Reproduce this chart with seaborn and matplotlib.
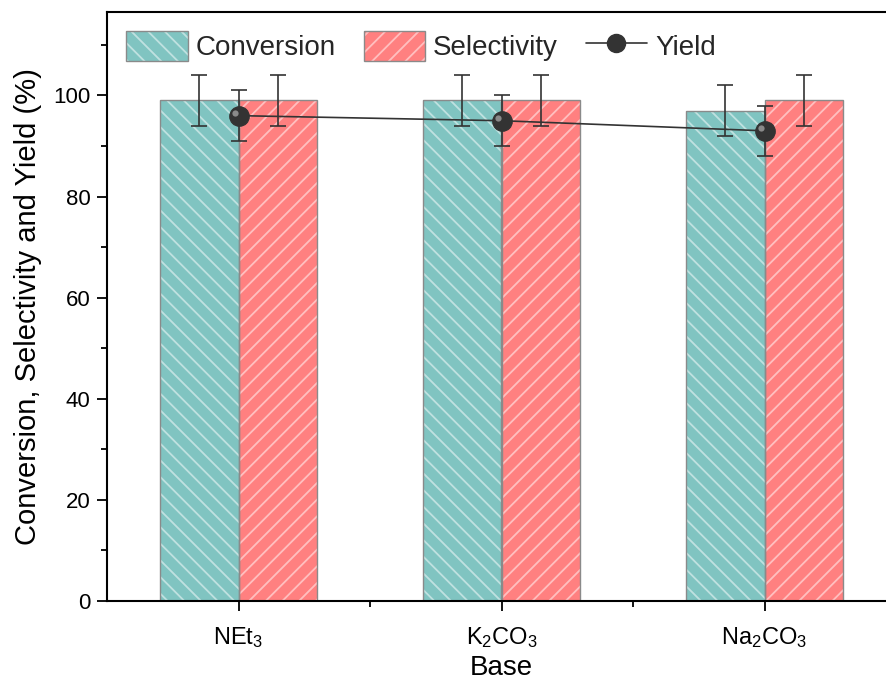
import matplotlib
matplotlib.use('Agg')
import matplotlib.pyplot as plt
import seaborn as sns
import pandas as pd
import numpy as np
from matplotlib.patches import Patch, Rectangle
from matplotlib.lines import Line2D
from matplotlib.legend_handler import HandlerTuple
from matplotlib.ticker import MultipleLocator

# ---- data ----
bases = [r'$\mathregular{NEt_3}$', r'$\mathregular{K_2CO_3}$', r'$\mathregular{Na_2CO_3}$']
conversion = [99, 99, 97]
conversion_err = [5, 5, 5]
selectivity = [99, 99, 99]
selectivity_err = [5, 5, 5]
yield_vals = [96, 95, 93]
yield_err = [5, 5, 5]

teal = '#80C4C1'
red = '#FF8080'
edge = '#8a8a8a'
dark = '#333333'

sns.set_theme(style='ticks')
plt.rcParams['font.family'] = ['Liberation Sans', 'DejaVu Sans']
plt.rcParams['hatch.linewidth'] = 1.3

fig = plt.figure(figsize=(8.86, 6.86), dpi=100)
ax = fig.add_axes([107/886, 85/686, 789/886, 589/686])

df = pd.DataFrame({
    'Base': bases * 2,
    'Metric': ['Conversion'] * 3 + ['Selectivity'] * 3,
    'Value': conversion + selectivity,
})

sns.barplot(data=df, x='Base', y='Value', hue='Metric', palette=[teal, red],
            width=0.6, errorbar=None, saturation=1, legend=False, ax=ax, zorder=2)

hatch_col = (1, 1, 1, 0.5)
for cont, h, errs in zip(ax.containers, ['\\\\', '//'], [conversion_err, selectivity_err]):
    xs, ys = [], []
    for b in cont:
        b.set_hatch(h)
        b.set_edgecolor(hatch_col)
        b.set_linewidth(0)
        ax.add_patch(Rectangle((b.get_x(), b.get_y()), b.get_width(), b.get_height(),
                               fill=False, edgecolor=edge, linewidth=1.0, zorder=2.5))
        xs.append(b.get_x() + b.get_width() / 2)
        ys.append(b.get_height())
    ax.errorbar(xs, ys, yerr=errs, fmt='none', ecolor=dark, elinewidth=1.2,
                capsize=6, capthick=1.2, zorder=3)

# yield line with points
ydf = pd.DataFrame({'Base': bases, 'Yield': yield_vals})
ax.errorbar(np.arange(len(bases)), yield_vals, yerr=yield_err, fmt='none', ecolor=dark,
            elinewidth=1.2, capsize=6, capthick=1.2, zorder=4)
sns.pointplot(data=ydf, x='Base', y='Yield', color=dark, markers='o', linestyles='-',
              errorbar=None, ax=ax, markersize=14, linewidth=1.2, zorder=5)
ax.plot(np.arange(len(bases)) - 0.012, np.array(yield_vals) + 0.6, 'o', color='#8a8a8a',
        markersize=4.5, markeredgewidth=0, zorder=6)

ax.set_xlim(-0.5, 2.5)
ax.set_ylim(0, 116.5)
ax.yaxis.set_major_locator(MultipleLocator(20))
ax.yaxis.set_minor_locator(MultipleLocator(10))
ax.set_xticks([0, 1, 2])
ax.set_xticks([0.5, 1.5], minor=True)
ax.set_xticklabels(bases)

ax.tick_params(axis='both', which='major', direction='out', length=7, width=1.3,
               labelsize=16, color='black', labelcolor='black')
ax.tick_params(axis='x', which='major', labelsize=17, pad=10)
ax.tick_params(axis='both', which='minor', direction='out', length=4, width=1.3, color='black')
ax.tick_params(axis='y', which='major', pad=5)

for s in ax.spines.values():
    s.set_visible(True)
    s.set_linewidth(1.5)
    s.set_color('black')

ax.set_xlabel('Base', fontsize=20, labelpad=4, color='black')
ax.set_ylabel('Conversion, Selectivity and Yield (%)', fontsize=21, labelpad=8, color='black')

# legend
h_conv = (Patch(facecolor=teal, hatch='\\\\', edgecolor=hatch_col, linewidth=0),
          Patch(facecolor='none', edgecolor=edge, linewidth=1.0))
h_sel = (Patch(facecolor=red, hatch='//', edgecolor=hatch_col, linewidth=0),
         Patch(facecolor='none', edgecolor=edge, linewidth=1.0))
h_yield = Line2D([], [], color=dark, marker='o', markersize=13, linewidth=1.2)
ax.legend([h_conv, h_sel, h_yield], ['Conversion', 'Selectivity', 'Yield'],
          handler_map={tuple: HandlerTuple(ndivide=1)},
          loc='upper left', bbox_to_anchor=(0.0, 1.0), ncols=3, frameon=False,
          fontsize=20, handlelength=2.2, handleheight=1.25, columnspacing=1.0,
          handletextpad=0.3, borderaxespad=0.3)

fig.savefig('out.png', dpi=100)
